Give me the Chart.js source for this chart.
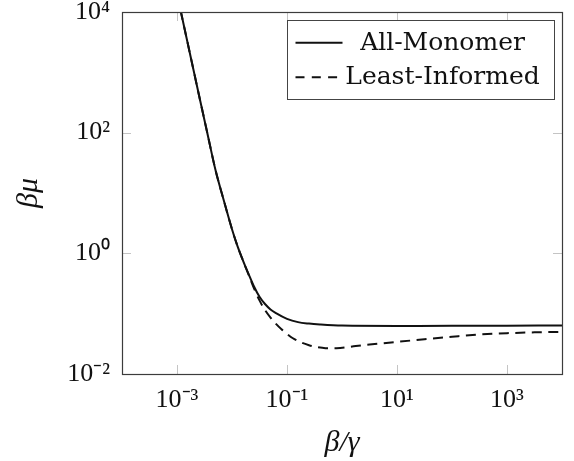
<!DOCTYPE html>
<html><head><meta charset="utf-8">
<script src="https://cdn.jsdelivr.net/npm/chart.js@4"></script>
<style>html,body{margin:0;padding:0;background:#fff}</style>
</head><body>
<canvas id="c" width="574" height="461" style="display:block;width:574px;height:461px"></canvas>
<script>
// ---- data (beta/gamma vs beta*mu, log-log) ----
const seriesNames = ['All-Monomer', 'Least-Informed'];
const solidX = [1.0e-3, 1.259e-3, 1.778e-3, 2.512e-3, 3.548e-3, 5.012e-3, 7.079e-3, 1.0e-2, 1.259e-2, 1.585e-2, 1.995e-2, 2.512e-2, 3.162e-2, 3.981e-2, 5.012e-2, 6.310e-2, 0.1, 0.1585, 0.2512, 0.3981, 1, 10, 100, 1000, 10000];
const solidY = [19950, 7586, 1778, 416.9, 100, 23.99, 7.586, 2.512, 1.318, 0.7586, 0.4571, 0.2818, 0.1905, 0.1445, 0.1175, 0.1023, 0.0822, 0.0724, 0.0684, 0.0661, 0.0634, 0.0627, 0.0628, 0.0632, 0.0637];
const dashedX = [1.0e-3, 1.259e-3, 1.778e-3, 2.512e-3, 3.548e-3, 5.012e-3, 7.079e-3, 1.0e-2, 1.259e-2, 1.585e-2, 1.995e-2, 2.512e-2, 3.162e-2, 3.981e-2, 5.012e-2, 6.310e-2, 7.943e-2, 0.1, 0.1259, 0.1778, 0.2512, 0.3548, 0.5012, 0.7943, 1.778, 3.162, 10, 31.62, 100, 316.2, 1000, 3162, 10000];
const dashedY = [19950, 7586, 1778, 416.9, 100, 23.99, 7.586, 2.512, 1.318, 0.7586, 0.4467, 0.2630, 0.1660, 0.1148, 0.0861, 0.0676, 0.0550, 0.0462, 0.0395, 0.0335, 0.0300, 0.0278, 0.0268, 0.0268, 0.0290, 0.0307, 0.0341, 0.0376, 0.0414, 0.0452, 0.0475, 0.0490, 0.0498];
const xTickValues = [1e-3, 1e-1, 1e1, 1e3];
const yTickValues = [1e-2, 1e0, 1e2, 1e4];
const xRange = [1e-4, 1e4];
const yRange = [1e-2, 1e4];
const xTitle = 'β/γ';
const yTitle = 'βμ';

const SUP = {'-':'⁻','0':'⁰','1':'¹','2':'²','3':'³','4':'⁴','5':'⁵','6':'⁶','7':'⁷','8':'⁸','9':'⁹'};
function expLabel(v){
  const e = Math.round(Math.log10(v));
  return '10' + String(e).split('').map(c => SUP[c]).join('');
}

const INK = '#111111';
const tickFont = {family: "'Liberation Serif', serif", size: 26};
const titleFont = {family: "'Liberation Serif', serif", size: 30, style: 'italic'};

const framePlugin = {
  id: 'frame',
  beforeDatasetsDraw(chart){
    const {ctx, chartArea: a, scales} = chart;
    ctx.save();
    ctx.strokeStyle = '#c4c4c4';
    ctx.lineWidth = 1;
    const L = 9;
    ctx.beginPath();
    xTickValues.forEach(v => {
      const px = Math.round(scales.x.getPixelForValue(v)) + 0.5;
      ctx.moveTo(px, a.bottom); ctx.lineTo(px, a.bottom - L);
      ctx.moveTo(px, a.top); ctx.lineTo(px, a.top + L);
    });
    yTickValues.forEach(v => {
      const py = Math.round(scales.y.getPixelForValue(v)) + 0.5;
      ctx.moveTo(a.left, py); ctx.lineTo(a.left + L, py);
      ctx.moveTo(a.right, py); ctx.lineTo(a.right - L, py);
    });
    ctx.stroke();
    ctx.restore();
  },
  afterDatasetsDraw(chart){
    const {ctx, chartArea: a} = chart;
    ctx.save();
    ctx.strokeStyle = '#3c3c3c';
    ctx.lineWidth = 1.2;
    ctx.strokeRect(Math.round(a.left) + 0.5, Math.round(a.top) + 0.5, Math.round(a.right - a.left), Math.round(a.bottom - a.top));
    // legend box
    const bx = a.right - 275.5, by = a.top + 8, bw = 267, bh = 79;
    ctx.fillStyle = '#ffffff';
    ctx.fillRect(bx, by, bw, bh);
    ctx.strokeStyle = '#444';
    ctx.lineWidth = 1;
    ctx.strokeRect(Math.round(bx) + 0.5, Math.round(by) + 0.5, bw, bh);
    const rows = [{dash: [], ly: 22.7, ty: 29.5}, {dash: [9, 7.3], ly: 57.3, ty: 63.5}];
    ctx.font = "25px 'DejaVu Serif', serif";
    ctx.textAlign = 'center';
    ctx.textBaseline = 'alphabetic';
    rows.forEach((r, i) => {
      const ds = chart.data.datasets[i];
      ctx.strokeStyle = ds.borderColor;
      ctx.lineWidth = ds.borderWidth;
      ctx.setLineDash(r.dash);
      ctx.beginPath();
      ctx.moveTo(bx + 9, by + r.ly);
      ctx.lineTo(bx + 56, by + r.ly);
      ctx.stroke();
      ctx.setLineDash([]);
      ctx.fillStyle = INK;
      ctx.fillText(ds.label, bx + 156, by + r.ty);
    });
    ctx.restore();
  }
};

new Chart(document.getElementById('c').getContext('2d'), {
  type: 'scatter',
  data: {
    datasets: [
      {label: seriesNames[0], data: solidX.map((x, i) => ({x, y: solidY[i]})), showLine: true,
       borderColor: INK, borderWidth: 2, pointRadius: 0, cubicInterpolationMode: 'monotone', fill: false},
      {label: seriesNames[1], data: dashedX.map((x, i) => ({x, y: dashedY[i]})), showLine: true,
       borderColor: INK, borderWidth: 2, borderDash: [10, 6.5], pointRadius: 0, cubicInterpolationMode: 'monotone', fill: false}
    ]
  },
  options: {
    responsive: false, animation: false, devicePixelRatio: 1,
    layout: {padding: {top: 12, right: 12, left: 0, bottom: 0}},
    plugins: {legend: {display: false}, tooltip: {enabled: false}},
    scales: {
      x: {
        type: 'logarithmic', min: xRange[0], max: xRange[1],
        afterBuildTicks: s => { s.ticks = xTickValues.map(v => ({value: v})); },
        afterFit: s => { s.height = 87; s.paddingLeft = 0; s.paddingRight = 0; },
        grid: {display: false, drawTicks: false}, border: {display: false},
        ticks: {callback: v => expLabel(v), font: tickFont, color: INK, padding: 11, maxRotation: 0, autoSkip: false},
        title: {display: true, text: xTitle, font: titleFont, color: INK, padding: {top: 0, bottom: 0}}
      },
      y: {
        type: 'logarithmic', min: yRange[0], max: yRange[1],
        afterBuildTicks: s => { s.ticks = yTickValues.map(v => ({value: v})); },
        afterFit: s => { s.width = 122; s.paddingTop = 0; s.paddingBottom = 0; },
        grid: {display: false, drawTicks: false}, border: {display: false},
        ticks: {callback: v => expLabel(v), font: tickFont, color: INK, padding: 12, autoSkip: false},
        title: {display: true, text: yTitle, font: titleFont, color: INK, padding: {top: 11, bottom: 0}}
      }
    }
  },
  plugins: [framePlugin]
});
</script>
</body></html>
